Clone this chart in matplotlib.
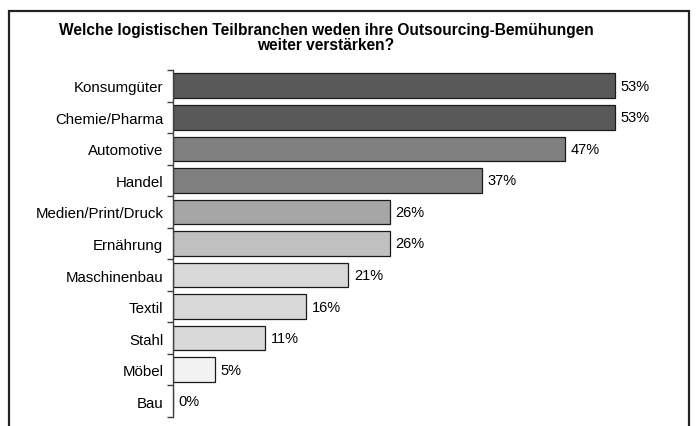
import matplotlib
matplotlib.use("Agg")
import matplotlib.pyplot as plt
from matplotlib.patches import Rectangle

plt.rcParams['font.family'] = ['Liberation Sans', 'DejaVu Sans']

branchen = ["Konsumgüter", "Chemie/Pharma", "Automotive", "Handel", "Medien/Print/Druck",
            "Ernährung", "Maschinenbau", "Textil", "Stahl", "Möbel", "Bau"]
anteile = [53, 53, 47, 37, 26, 26, 21, 16, 11, 5, 0]
farben = ["#595959", "#595959", "#808080", "#808080", "#a6a6a6",
          "#c0c0c0", "#d9d9d9", "#d9d9d9", "#d9d9d9", "#f2f2f2", "#f2f2f2"]

fig = plt.figure(figsize=(6.96, 4.27), dpi=100)

# outer frame, open at the bottom edge of the image
frame = Rectangle((9 / 696, -0.05), 680 / 696, 1.05 - 12 / 427, transform=fig.transFigure,
                  fill=False, edgecolor="#222222", linewidth=1.6)
fig.patches.append(frame)

fig.text(326 / 696, 1 - 38 / 427,
         "Welche logistischen Teilbranchen weden ihre Outsourcing-Bemühungen\nweiter verstärken?",
         ha="center", va="center", fontsize=11.2, fontweight="bold", linespacing=1.0)

ax = fig.add_axes([173 / 696, 1 - 418 / 427, 500 / 696, 347 / 427])
y = list(range(len(branchen)))
ax.barh(y, anteile, height=0.78, color=farben, edgecolor="#1a1a1a", linewidth=0.9)
for yi, v in zip(y, anteile):
    ax.text(v + 0.7, yi, f"{v}%", va="center", ha="left", fontsize=10.5)

ax.set_ylim(len(branchen) - 0.5, -0.5)
ax.set_xlim(0, 500 / 8.34)
ax.set_yticks(y)
ax.set_yticklabels(branchen, fontsize=10.8)
ax.tick_params(axis="y", length=0, pad=7)
ax.set_yticks([i - 0.5 for i in range(len(branchen) + 1)], minor=True)
ax.tick_params(axis="y", which="minor", length=4, color="#404040", width=1)
ax.set_xticks([])
for s in ["top", "right", "bottom"]:
    ax.spines[s].set_visible(False)
ax.spines["left"].set_color("#404040")
ax.spines["left"].set_linewidth(1)

fig.savefig("out.png", dpi=100)
